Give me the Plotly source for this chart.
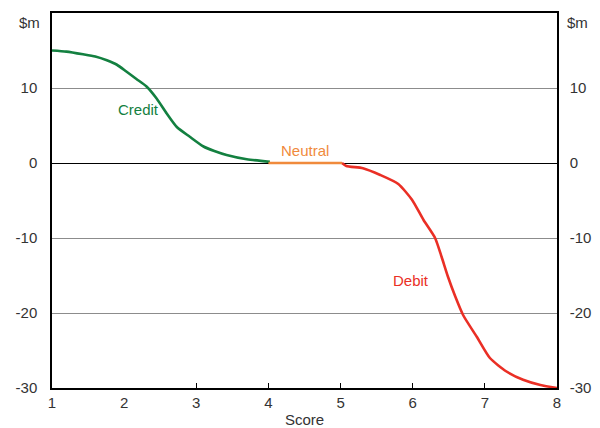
import plotly.graph_objects as go

credit_x = [1.0, 1.2, 1.43, 1.6, 1.76, 1.9, 2.03, 2.17, 2.31, 2.45, 2.59, 2.73, 2.91, 3.1, 3.25, 3.42, 3.7, 4.02]
credit_y = [15.0, 14.85, 14.5, 14.2, 13.7, 13.1, 12.2, 11.2, 10.2, 8.6, 6.6, 4.8, 3.5, 2.2, 1.6, 1.07, 0.5, 0.15]

neutral_x = [4.0, 5.02]
neutral_y = [0.0, 0.0]

debit_x = [5.02, 5.08, 5.31, 5.55, 5.8, 5.99, 6.15, 6.31, 6.4, 6.49, 6.59, 6.7, 6.89, 7.07, 7.3, 7.53, 7.77, 8.0]
debit_y = [0.0, -0.4, -0.7, -1.6, -2.8, -4.9, -7.6, -10.0, -12.5, -15.2, -17.8, -20.3, -23.2, -26.0, -27.8, -28.9, -29.6, -30.0]

x_ticks = [1, 2, 3, 4, 5, 6, 7, 8]
x_minor_ticks = [3, 4, 5, 6, 7]
y_ticks = [-30, -20, -10, 0, 10]
y_labels = ["-30", "-20", "-10", "0", "10"]

GREEN = "#138040"
ORANGE = "#f08a3c"
RED = "#ea2f25"
FONT = "Liberation Sans, Arial, sans-serif"
TXT = "#333333"
FS = 15

fig = go.Figure()
fig.add_trace(go.Scatter(x=credit_x, y=credit_y, mode="lines", line=dict(color=GREEN, width=2.6, shape="spline", smoothing=0.6), hoverinfo="skip"))
fig.add_trace(go.Scatter(x=debit_x, y=debit_y, mode="lines", line=dict(color=RED, width=2.6, shape="spline", smoothing=0.6), hoverinfo="skip"))
fig.add_trace(go.Scatter(x=neutral_x, y=neutral_y, mode="lines", line=dict(color=ORANGE, width=2.6), hoverinfo="skip"))
fig.add_trace(go.Scatter(x=[1, 8], y=[-30, 20], mode="markers", marker=dict(opacity=0), xaxis="x2", yaxis="y2", hoverinfo="skip"))

fig.update_layout(
    width=592, height=420,
    margin=dict(l=44, r=43, t=5, b=40),
    plot_bgcolor="white", paper_bgcolor="white",
    showlegend=False,
    font=dict(family=FONT, size=FS, color=TXT),
    xaxis=dict(range=[1, 8], tickvals=x_ticks, ticks="", showgrid=False, zeroline=False, automargin=False,
               showline=True, linecolor="black", linewidth=1.5, mirror=True,
               tickfont=dict(size=FS, color=TXT),
               title=dict(text="Score", standoff=7, font=dict(size=FS, color=TXT))),
    xaxis2=dict(range=[1, 8], overlaying="x", anchor="y", side="bottom", tickvals=x_minor_ticks, automargin=False,
                ticks="inside", ticklen=5, tickcolor="black", tickwidth=1, showticklabels=False,
                showgrid=False, zeroline=False, showline=False),
    yaxis=dict(range=[-30, 20], tickvals=y_ticks, ticktext=y_labels, ticks="", showgrid=True, gridcolor="#8c8c8c", gridwidth=1,
               zeroline=True, zerolinecolor="black", zerolinewidth=1.2, automargin=False,
               showline=True, linecolor="black", linewidth=1.5,
               tickfont=dict(size=FS, color=TXT), ticklabelstandoff=10),
    yaxis2=dict(range=[-30, 20], overlaying="y", side="right", anchor="x", tickvals=y_ticks, ticktext=y_labels, ticks="",
                showgrid=False, zeroline=False, showline=True, linecolor="black", linewidth=1.5, automargin=False,
                tickfont=dict(size=FS, color=TXT), ticklabelstandoff=8),
    annotations=[
        dict(text="$m", x=0, xref="paper", xanchor="right", xshift=-10, y=0.976, yref="paper", yanchor="middle",
             showarrow=False, font=dict(size=FS, color=TXT)),
        dict(text="$m", x=1, xref="paper", xanchor="left", xshift=8, y=0.976, yref="paper", yanchor="middle",
             showarrow=False, font=dict(size=FS, color=TXT)),
        dict(text="Credit", x=2.2, y=7.2, xref="x", yref="y", showarrow=False, font=dict(size=FS, color=GREEN)),
        dict(text="Neutral", x=4.5, y=1.7, xref="x", yref="y", showarrow=False, font=dict(size=FS, color=ORANGE)),
        dict(text="Debit", x=5.98, y=-15.6, xref="x", yref="y", showarrow=False, font=dict(size=FS, color=RED)),
    ],
)

fig.write_html("out.html")
